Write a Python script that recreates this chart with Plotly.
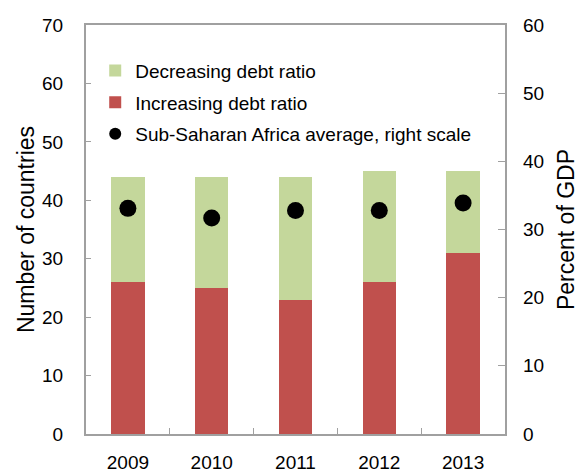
import plotly.graph_objects as go

years = ["2009", "2010", "2011", "2012", "2013"]
increasing = [26, 25, 23, 26, 31]
decreasing = [18, 19, 21, 19, 14]
ssa_average = [33.1, 31.7, 32.8, 32.8, 33.9]

font = dict(family="Liberation Sans, Arial, sans-serif", size=19, color="black")
axis_color = "#a0a0a0"

fig = go.Figure()
fig.add_trace(go.Bar(
    x=years, y=increasing, name="Increasing debt ratio",
    marker=dict(color="#c0504d", line=dict(width=0)),
    legendrank=2, legendgroup="inc",
))
fig.add_trace(go.Bar(
    x=years, y=decreasing, name="Decreasing debt ratio",
    marker=dict(color="#c4d79b", line=dict(width=0)),
    legendrank=1, legendgroup="dec",
))
fig.add_trace(go.Scatter(
    x=years, y=ssa_average, name="Sub-Saharan Africa average, right scale",
    mode="markers", marker=dict(color="black", size=17), yaxis="y2",
    legendrank=3, legendgroup="avg",
))

fig.update_layout(
    width=579, height=472,
    margin=dict(l=86, r=74, t=25, b=38, autoexpand=False),
    barmode="stack", bargap=0.6,
    plot_bgcolor="white", paper_bgcolor="white",
    font=font,
    showlegend=True,
    legend=dict(
        x=0.022, y=0.935, xanchor="left", yanchor="top",
        traceorder="grouped", bgcolor="rgba(0,0,0,0)",
        font=dict(size=19), itemsizing="constant", tracegroupgap=4,
    ),
    xaxis=dict(
        type="category", showline=True, linecolor=axis_color, linewidth=2,
        mirror=True, ticks="inside", ticklen=6, tickcolor=axis_color,
        tickson="boundaries", showgrid=False, ticklabelstandoff=10,
        automargin=False,
    ),
    yaxis=dict(
        range=[0, 70], dtick=10, showline=True, linecolor=axis_color,
        linewidth=2, mirror=True, ticks="inside", ticklen=5,
        tickcolor=axis_color, showgrid=False, zeroline=False,
        title=dict(text="Number of countries", standoff=1),
        ticklabelstandoff=17, automargin=False,
    ),
    yaxis2=dict(
        range=[0, 60], dtick=10, overlaying="y", side="right",
        showline=False, ticks="inside", ticklen=7, tickcolor=axis_color,
        showgrid=False, zeroline=False,
        title=dict(text="Percent of GDP", standoff=20),
        ticklabelstandoff=17, automargin=False,
    ),
)

fig.write_html("out.html")
